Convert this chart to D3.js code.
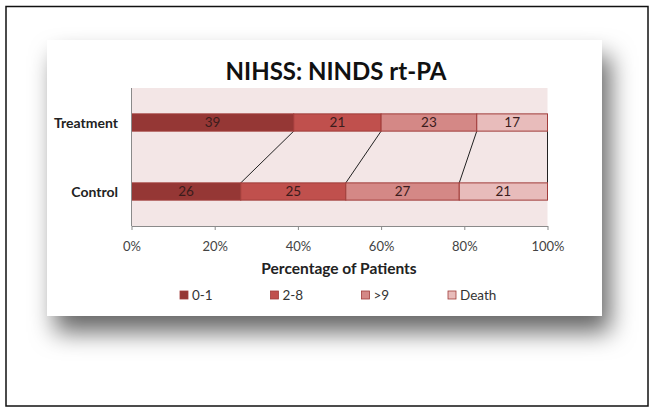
<!DOCTYPE html>
<html>
<head>
<meta charset="utf-8">
<script src="https://cdn.jsdelivr.net/npm/d3@7"></script>
<style>
  html, body { margin: 0; padding: 0; background: #fff; }
  svg { display: block; }
</style>
</head>
<body>
<div id="chart"></div>
<script>
// --- Data ---
const groups = ["Treatment", "Control"];
const seriesNames = ["0-1", "2-8", ">9", "Death"];
const treatmentValues = [39, 21, 23, 17];
const controlValues = [26, 25, 27, 21];
const xTicks = [0, 0.2, 0.4, 0.6, 0.8, 1];

// --- Styles ---
const COLORS = ["#953735", "#c0504d", "#d48886", "#e8bcbb"];
const BAR_STROKE = "#a03c3a";
const PLOT_BG = "#f3e6e6";
const FONT = "Lato, 'Open Sans', sans-serif";

const W = 654, H = 412;
const svg = d3.select("#chart").append("svg")
    .attr("width", W)
    .attr("height", H);

// drop shadow for the card
const defs = svg.append("defs");
const f = defs.append("filter").attr("id", "shadow")
    .attr("x", "-15%").attr("y", "-15%").attr("width", "135%").attr("height", "160%");
f.append("feDropShadow")
    .attr("dx", 8).attr("dy", 16)
    .attr("stdDeviation", 12)
    .attr("flood-color", "#000")
    .attr("flood-opacity", 0.6);

// outer frame
svg.append("rect")
    .attr("x", 6).attr("y", 6.5).attr("width", 642).attr("height", 399.5)
    .attr("fill", "none").attr("stroke", "#111").attr("stroke-width", 1.5);

// chart card
svg.append("rect")
    .attr("x", 47).attr("y", 40).attr("width", 555).attr("height", 276)
    .attr("fill", "#fff")
    .attr("filter", "url(#shadow)");

// --- Scales ---
const plot = { left: 131.5, right: 547.5, top: 88, bottom: 226 };
const x = d3.scaleLinear().domain([0, 1]).range([plot.left, plot.right]);
const y = d3.scaleBand().domain(groups)
    .range([plot.top, plot.bottom])
    .paddingInner(0.75)
    .paddingOuter(0.375);

// stacked, normalised data
const rows = [treatmentValues, controlValues].map((vals, i) => {
    const total = d3.sum(vals);
    let acc = 0;
    const segs = vals.map((v, j) => {
        const s = { group: groups[i], series: j, value: v, x0: acc / total, x1: (acc + v) / total };
        acc += v;
        return s;
    });
    return { group: groups[i], segs };
});

// plot background
svg.append("rect")
    .attr("x", plot.left).attr("y", plot.top)
    .attr("width", plot.right - plot.left).attr("height", plot.bottom - plot.top)
    .attr("fill", PLOT_BG);

// series lines between bars
const tRow = rows[0], cRow = rows[1];
svg.append("g").selectAll("line")
    .data(d3.range(seriesNames.length))
    .join("line")
    .attr("x1", j => x(tRow.segs[j].x1))
    .attr("y1", y("Treatment") + y.bandwidth())
    .attr("x2", j => x(cRow.segs[j].x1))
    .attr("y2", y("Control"))
    .attr("stroke", "#222")
    .attr("stroke-width", 1);

// bars
const barG = svg.append("g");
rows.forEach(row => {
    barG.selectAll(null)
        .data(row.segs)
        .join("rect")
        .attr("x", d => x(d.x0))
        .attr("y", y(row.group))
        .attr("width", d => x(d.x1) - x(d.x0))
        .attr("height", y.bandwidth())
        .attr("fill", d => COLORS[d.series])
        .attr("stroke", BAR_STROKE)
        .attr("stroke-width", 1);
    barG.selectAll(null)
        .data(row.segs)
        .join("text")
        .attr("x", d => x((d.x0 + d.x1) / 2))
        .attr("y", y(row.group) + y.bandwidth() / 2)
        .attr("dy", "0.36em")
        .attr("text-anchor", "middle")
        .attr("font-family", FONT)
        .attr("font-size", 13.5)
        .attr("fill", "#3b1c1c")
        .text(d => d.value);
});

// y axis line
svg.append("line")
    .attr("x1", plot.left).attr("x2", plot.left)
    .attr("y1", plot.top).attr("y2", plot.bottom)
    .attr("stroke", "#8a8a8a");

// category labels
svg.append("g").selectAll("text")
    .data(groups)
    .join("text")
    .attr("x", 118)
    .attr("y", d => y(d) + y.bandwidth() / 2)
    .attr("dy", "0.36em")
    .attr("text-anchor", "end")
    .attr("font-family", FONT)
    .attr("font-weight", "bold")
    .attr("font-size", 14)
    .attr("fill", "#222")
    .text(d => d);

// x axis
const xAxis = svg.append("g")
    .attr("transform", `translate(0,${plot.bottom})`)
    .call(d3.axisBottom(x).tickValues(xTicks).tickFormat(d3.format(".0%")).tickSize(4).tickSizeOuter(0).tickPadding(12));
xAxis.select(".domain").attr("stroke", "#8a8a8a");
xAxis.selectAll(".tick line").attr("stroke", "#8a8a8a");
xAxis.selectAll("text")
    .attr("font-family", FONT)
    .attr("font-size", 13)
    .attr("fill", "#444");

// title
svg.append("text")
    .attr("x", 336).attr("y", 80)
    .attr("text-anchor", "middle")
    .attr("font-family", FONT)
    .attr("font-weight", "bold")
    .attr("font-size", 24)
    .attr("fill", "#111")
    .text("NIHSS: NINDS rt-PA");

// x axis title
svg.append("text")
    .attr("x", 339).attr("y", 274)
    .attr("text-anchor", "middle")
    .attr("font-family", FONT)
    .attr("font-weight", "bold")
    .attr("font-size", 15.5)
    .attr("fill", "#222")
    .text("Percentage of Patients");

// legend
const legendX = [180, 270.5, 361.5, 448];
const legend = svg.append("g").selectAll("g")
    .data(seriesNames)
    .join("g")
    .attr("transform", (d, i) => `translate(${legendX[i]},295)`);
legend.append("rect")
    .attr("x", 0).attr("y", -4).attr("width", 8).attr("height", 8)
    .attr("fill", (d, i) => COLORS[i])
    .attr("stroke", BAR_STROKE).attr("stroke-width", 0.8);
legend.append("text")
    .attr("x", 12).attr("y", 0).attr("dy", "0.36em")
    .attr("font-family", FONT)
    .attr("font-size", 13.5)
    .attr("fill", "#333")
    .text(d => d);
</script>
</body>
</html>
